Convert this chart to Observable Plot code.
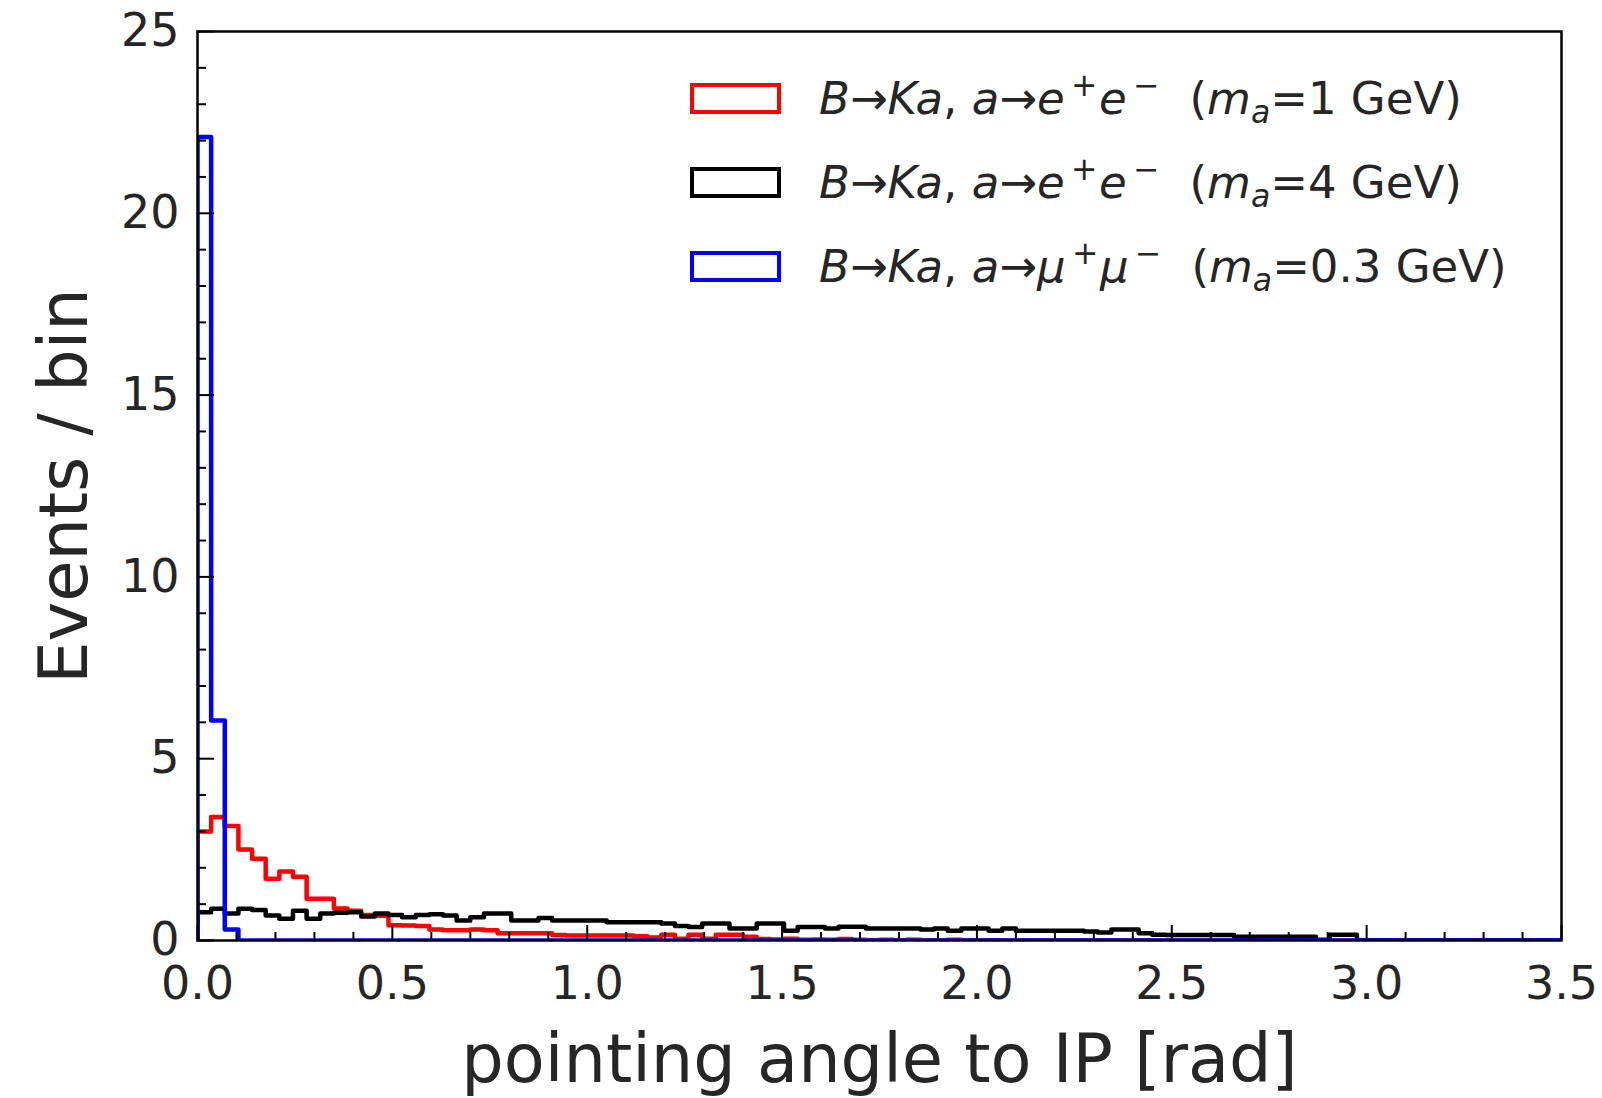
<!DOCTYPE html>
<html><head><meta charset="utf-8">
<script src="https://cdn.jsdelivr.net/npm/d3@7"></script>
<script src="https://cdn.jsdelivr.net/npm/@observablehq/plot@0.6"></script>
<style>
html,body{margin:0;padding:0;background:#fff;}
#wrap{position:relative;width:1602px;height:1098px;overflow:hidden;font-family:"DejaVu Sans",sans-serif;}
#legend{position:absolute;left:690px;top:56px;color:#262626;font-size:45px;}
.row{display:flex;align-items:center;height:84px;white-space:nowrap;}
.box{width:83px;height:23px;border:4.5px solid;margin-right:38px;flex:none;}
.sup{font-size:70%;vertical-align:0.55em;line-height:0;margin-left:0.2em;margin-right:0.05em;}
.sub{font-size:70%;vertical-align:-0.3em;line-height:0;font-style:italic;}
</style>
</head><body>
<div id="wrap"><div id="chart"></div><div id="legend"></div></div>
<script>
// ---- data ----
const binWidth = 0.035;
const nBins = 100;
const xTicksMajor = [0, 0.5, 1.0, 1.5, 2.0, 2.5, 3.0, 3.5];
const yTicksMajor = [0, 5, 10, 15, 20, 25];
const xTitle = "pointing angle to IP [rad]";
const yTitle = "Events / bin";
const seriesColors = ["#ff0000", "#000000", "#0000ff"];
const seriesLepton = ["e", "e", "μ"];
const seriesMass = ["1", "4", "0.3"];

const redValues = [
 3.0,3.4,3.15,2.5,2.25,1.7,1.9,1.75,1.15,1.15,
 0.88,0.82,0.7,0.68,0.42,0.41,0.4,0.3,0.28,0.28,
 0.3,0.28,0.2,0.2,0.2,0.2,0.15,0.14,0.14,0.14,
 0.14,0.14,0.12,0.08,0.16,0.05,0.16,0.05,0.16,0.16,
 0.1,0.04,0.03,0.05,0.02,0.03,0.02,0.04,0.02,0.01,
 0.02,0.01,0.02,0.01,0.0,0.02,0.01,0.0,0.01,0.0,
 0,0,0,0,0,0,0,0,0,0,
 0,0,0,0,0,0,0,0,0,0,
 0,0,0,0,0,0,0,0,0,0,
 0,0,0,0,0,0,0,0,0,0];

const blackValues = [
 0.78,0.87,0.74,0.87,0.84,0.69,0.6,0.82,0.6,0.74,
 0.76,0.78,0.66,0.74,0.7,0.64,0.7,0.72,0.69,0.55,
 0.64,0.74,0.74,0.55,0.55,0.62,0.55,0.55,0.55,0.55,
 0.5,0.5,0.5,0.5,0.47,0.4,0.37,0.47,0.47,0.33,
 0.33,0.47,0.47,0.27,0.37,0.37,0.33,0.38,0.38,0.33,
 0.33,0.33,0.33,0.3,0.33,0.27,0.33,0.33,0.27,0.33,
 0.27,0.27,0.27,0.27,0.27,0.25,0.22,0.3,0.3,0.2,
 0.16,0.15,0.15,0.15,0.15,0.15,0.1,0.1,0.1,0.1,
 0.1,0.1,0.02,0.16,0.16,0,0,0,0,0,
 0,0,0,0,0,0,0,0,0,0];

const blueValues = [
 22.1,6.05,0.3,0,0,0,0,0,0,0,
 0,0,0,0,0,0,0,0,0,0,
 0,0,0,0,0,0,0,0,0,0,
 0,0,0,0,0,0,0,0,0,0,
 0,0,0,0,0,0,0,0,0,0,
 0,0,0,0,0,0,0,0,0,0,
 0,0,0,0,0,0,0,0,0,0,
 0,0,0,0,0,0,0,0,0,0,
 0,0,0,0,0,0,0,0,0,0,
 0,0,0,0,0,0,0,0,0,0];

// ---- build ----
const edges = d3.range(nBins + 1).map(i => +(i * binWidth).toFixed(4));
function stepPoints(vals){
  const pts = [{x: edges[0], y: 0}];
  vals.forEach((v, i) => pts.push({x: edges[i], y: v}));
  pts.push({x: edges[nBins], y: vals[nBins - 1]});
  pts.push({x: edges[nBins], y: 0});
  return pts;
}
const series = [redValues, blackValues, blueValues];

const W = 1602, H = 1098;
const mL = 197, mR = 41, mT = 31, mB = 158;
const plotW = W - mL - mR, plotH = H - mT - mB;
const xTicksMinor = d3.range(0, 36).map(i => i / 10).filter(v => Math.abs(v * 2 - Math.round(v * 2)) > 1e-6);
const yTicksMinor = d3.range(0, 26).filter(v => v % 5 !== 0);

const chart = Plot.plot({
  width: W, height: H,
  marginLeft: mL, marginRight: mR, marginTop: mT, marginBottom: mB,
  style: {fontFamily: "DejaVu Sans", fontSize: "46px", color: "#262626", background: "white", overflow: "visible"},
  x: {domain: [0, 3.5]},
  y: {domain: [0, 25]},
  marks: [
    ...series.map((vals, k) => Plot.line(stepPoints(vals), {x: "x", y: "y", curve: "step-after", stroke: seriesColors[k], strokeWidth: 4.5, clip: true})),
    Plot.tickX(xTicksMinor, {x: d => d, stroke: "black", strokeWidth: 2, insetTop: plotH - 8}),
    Plot.tickX(xTicksMajor, {x: d => d, stroke: "black", strokeWidth: 2, insetTop: plotH - 15}),
    Plot.tickY(yTicksMinor, {y: d => d, stroke: "black", strokeWidth: 2, insetRight: plotW - 9}),
    Plot.tickY(yTicksMajor, {y: d => d, stroke: "black", strokeWidth: 2, insetRight: plotW - 17}),
    Plot.axisX({ticks: xTicksMajor, tickSize: 0, tickPadding: 26, tickFormat: d3.format(".1f"), label: null}),
    Plot.axisY({ticks: yTicksMajor, tickSize: 0, tickPadding: 18, tickFormat: d3.format("d"), label: null}),
    Plot.frame({stroke: "black", strokeWidth: 2.5}),
    Plot.text([xTitle], {text: d => d, frameAnchor: "bottom", textAnchor: "middle", dy: 120, fontSize: 67, lineAnchor: "middle", fill: "#262626"}),
    Plot.text([yTitle], {text: d => d, frameAnchor: "left", textAnchor: "middle", dx: -132, rotate: -90, fontSize: 67, lineAnchor: "middle", fill: "#262626"})
  ]
});
document.getElementById("chart").appendChild(chart);

// ---- legend ----
const legend = document.getElementById("legend");
seriesColors.forEach((c, k) => {
  const row = document.createElement("div");
  row.className = "row";
  const l = seriesLepton[k];
  row.innerHTML = `<div class="box" style="border-color:${c}"></div>` +
    `<span><i>B</i>→<i>Ka</i>, <i>a</i>→<i>${l}</i><span class="sup">+</span><i>${l}</i><span class="sup">−</span>&nbsp; (<i>m</i><span class="sub">a</span>=${seriesMass[k]} GeV)</span>`;
  legend.appendChild(row);
});
</script>
</body></html>
